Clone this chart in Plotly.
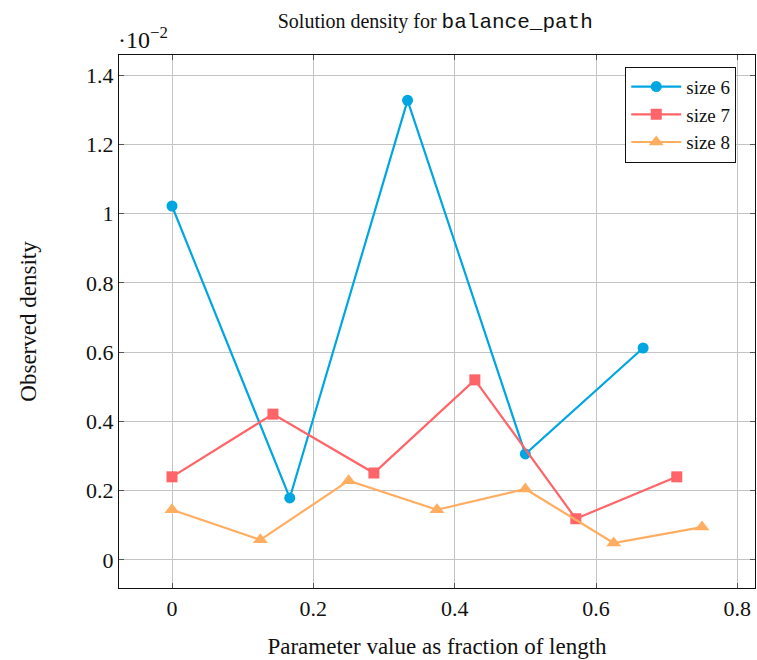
import plotly.graph_objects as go

x6 = [0, 1/6, 2/6, 3/6, 4/6]
y6 = [1.022, 0.179, 1.327, 0.306, 0.612]
x7 = [0, 1/7, 2/7, 3/7, 4/7, 5/7]
y7 = [0.240, 0.421, 0.251, 0.520, 0.119, 0.240]
x8 = [0, 1/8, 2/8, 3/8, 4/8, 5/8, 6/8]
y8 = [0.145, 0.058, 0.229, 0.145, 0.205, 0.049, 0.095]

names = ["size 6", "size 7", "size 8"]
colors = ["#00A6E2", "#FF6468", "#FFAD60"]
symbols = ["circle", "square", "triangle-up"]
xtick_vals = [0, 0.2, 0.4, 0.6, 0.8]
xtick_text = ["0", "0.2", "0.4", "0.6", "0.8"]
ytick_vals = [0, 0.2, 0.4, 0.6, 0.8, 1.0, 1.2, 1.4]
ytick_text = ["0", "0.2", "0.4", "0.6", "0.8", "1", "1.2", "1.4"]

serif = "'Liberation Serif', 'Times New Roman', serif"

fig = go.Figure()
for xs, ys, n, c, s in zip([x6, x7, x8], [y6, y7, y8], names, colors, symbols):
    fig.add_trace(go.Scatter(
        x=xs, y=ys, name=n, mode="lines+markers",
        line=dict(color=c, width=2.2),
        marker=dict(color=c, symbol=s, size=11 if s != "triangle-up" else 13),
    ))

axis_common = dict(
    showgrid=True, gridcolor="#c4c4c4", gridwidth=1,
    showline=True, linecolor="#111", linewidth=1.4, mirror="ticks",
    ticks="inside", ticklen=5, tickcolor="#555",
    zeroline=False,
    tickfont=dict(family=serif, size=22, color="#111"),
)

fig.update_layout(
    width=757, height=660,
    paper_bgcolor="white", plot_bgcolor="white",
    margin=dict(l=119, r=2, t=55, b=72),
    title=dict(
        text="Solution density for <span style=\"font-family:'Liberation Mono', monospace; font-size:21px\">balance_path</span>",
        x=0.575, xanchor="center", y=0.968, yanchor="middle",
        font=dict(family=serif, size=20, color="#111"),
    ),
    xaxis=dict(axis_common, range=[-0.075, 0.825], tickvals=xtick_vals, ticktext=xtick_text,
               title=dict(text="Parameter value as fraction of length",
                          font=dict(family=serif, size=23, color="#111"), standoff=18)),
    yaxis=dict(axis_common, range=[-0.081, 1.458], tickvals=ytick_vals, ticktext=ytick_text,
               title=dict(text="Observed density",
                          font=dict(family=serif, size=23, color="#111"), standoff=42)),
    legend=dict(
        x=0.796, y=0.978, xanchor="left", yanchor="top",
        bgcolor="white", bordercolor="#111", borderwidth=1,
        font=dict(family=serif, size=19, color="#111"),
        tracegroupgap=0, itemwidth=50,
    ),
    showlegend=True,
)

fig.add_annotation(
    text="·10<sup>−2</sup>", xref="paper", yref="paper",
    x=0.0, y=1.0, xanchor="left", yanchor="bottom", yshift=0, xshift=-3,
    showarrow=False, font=dict(family=serif, size=24, color="#111"),
)

fig.write_html("out.html", config={"displayModeBar": False},
               post_script="document.body.style.margin='0';document.body.style.padding='0';")
